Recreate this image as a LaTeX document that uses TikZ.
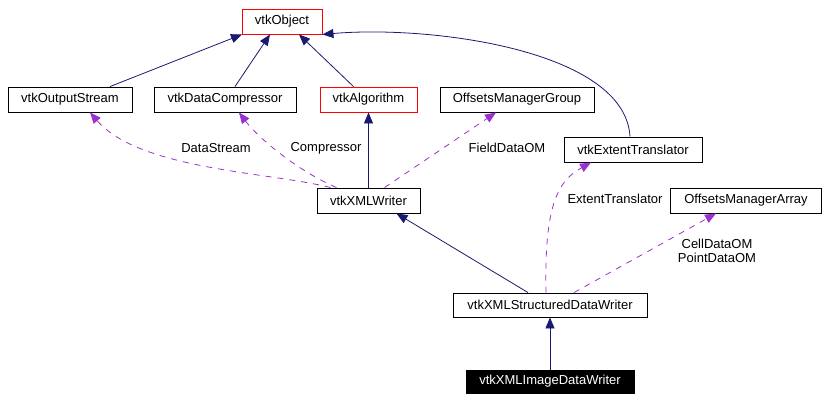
\documentclass[tikz,border=0pt]{standalone}
\usepackage{fontspec}
\setmainfont{Liberation Sans}
\usetikzlibrary{arrows.meta}
\definecolor{inhblue}{HTML}{191970}
\definecolor{usepurple}{HTML}{9A32CD}
\tikzstyle{cls} = [draw=black, line width=0.9pt, minimum height=25pt, inner sep=0pt, font=\fontsize{13}{15}\selectfont]
\tikzstyle{redcls} = [cls, draw=red]
\tikzstyle{inherit} = [line width=0.8pt, inhblue, -{Triangle[length=11pt,width=9pt]}]
\tikzstyle{uses} = [line width=0.8pt, usepurple, dash pattern=on 6pt off 6pt, -{Triangle[length=11pt,width=9pt]}]
\tikzstyle{lbl} = [font=\fontsize{13}{14}\selectfont, align=center]
\begin{document}
\begin{tikzpicture}[x=1pt,y=-1pt]
            \useasboundingbox (0,0) rectangle (834,402);
            \node[redcls, minimum width=80pt] (obj) at (282,21.5) {vtkObject};
            \node[cls, minimum width=124pt] (ostream) at (70,99.5) {vtkOutputStream};
            \node[cls, minimum width=142pt] (dcomp) at (225,99.5) {vtkDataCompressor};
            \node[redcls, minimum width=97pt] (algo) at (368.5,99.5) {vtkAlgorithm};
            \node[cls, minimum width=154pt] (omgroup) at (517,99.5) {OffsetsManagerGroup};
            \node[cls, minimum width=138pt] (extent) at (633,149.5) {vtkExtentTranslator};
            \node[cls, minimum width=103pt] (xmlw) at (368.5,200.5) {vtkXMLWriter};
            \node[cls, minimum width=151pt] (omarray) at (746,200.5) {OffsetsManagerArray};
            \node[cls, minimum width=194pt, minimum height=24pt] (sdw) at (550,305) {vtkXMLStructuredDataWriter};
            \node[cls, fill=black, text=white, minimum width=168pt, minimum height=23pt] (idw) at (550,381.5) {vtkXMLImageDataWriter};
            \draw[inherit] ([xshift=40]ostream.north) -- ([xshift=-40]obj.south);
            \draw[inherit] ([xshift=10]dcomp.north) -- ([xshift=-12]obj.south);
            \draw[inherit] ([xshift=-15]algo.north) -- ([xshift=17]obj.south);
            \draw[inherit] ([xshift=-3]extent.north) .. controls (625,50) and (430,25) .. (obj.south east);
            \draw[inherit] (xmlw.north) -- (algo.south);
            \draw[inherit] ([xshift=-22]sdw.north) -- ([xshift=28]xmlw.south);
            \draw[inherit] (idw.north) -- (sdw.south);
            \draw[uses] ([xshift=-38]xmlw.north) .. controls (270,172) and (140,170) .. ([xshift=20]ostream.south);
            \draw[uses] ([xshift=-32]xmlw.north) .. controls (300,172) and (260,140) .. ([xshift=14]dcomp.south);
            \draw[uses] ([xshift=16]xmlw.north) -- ([xshift=-21]omgroup.south);
            \draw[uses] ([xshift=-4]sdw.north) .. controls (544,200) and (560,180) .. ([xshift=-42]extent.south);
            \draw[uses] ([xshift=24]sdw.north) -- ([xshift=-30]omarray.south);
            \node[lbl] (lds) at (216,148) {DataStream};
            \node[lbl] (lcomp) at (326,148) {Compressor};
            \node[lbl] (lfield) at (507,148) {FieldDataOM};
            \node[lbl] (lext) at (615,199) {ExtentTranslator};
            \node[lbl] (lcell) at (717,251) {CellDataOM\\PointDataOM};
        \end{tikzpicture}
\end{document}
